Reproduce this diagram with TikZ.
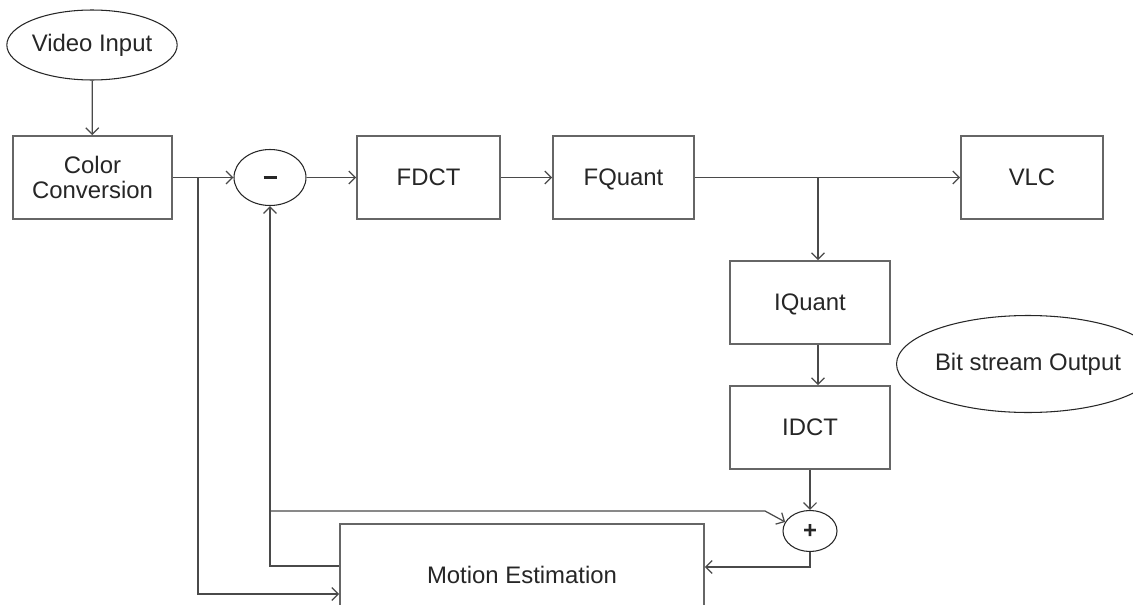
\documentclass[tikz,border=0pt]{standalone}
\usepackage{fontspec}
\setmainfont{Liberation Sans}
\usetikzlibrary{shapes.geometric,arrows.meta}
\definecolor{lijn}{HTML}{4A4A4A}
\definecolor{rand}{HTML}{666666}
\tikzset{
  blok/.style={draw=rand, line width=1pt, rectangle, inner sep=0pt, minimum height=1.66cm, align=center},
  ovaal/.style={draw=black!85, line width=0.6pt, ellipse, inner sep=0pt},
  pijl/.style={-{Straight Barb[length=1.3mm,width=2.6mm]}, draw=lijn, line width=0.7pt},
  lijnstuk/.style={draw=lijn, line width=0.7pt}
}
\begin{document}
\begin{tikzpicture}[x=0.02cm, y=-0.02cm, font=\fontsize{13.6}{14.4}\selectfont, text=black!85]
  \clip (0,0) rectangle (1133,605);
  \fill[white] (0,0) rectangle (1133,605);

  % ellipsen
  \node[ovaal, minimum width=2.84cm, minimum height=1.4cm] (vin) at (92,45) {Video Input};
  \node[ovaal, minimum width=4.1cm, minimum height=1.94cm] (bso) at (1028,364) {Bit stream Output};
  \node[ovaal, minimum width=1.44cm, minimum height=1.12cm] (min) at (270,177.5) {\rule{0.26cm}{0.07cm}};
  \node[ovaal, minimum width=1.08cm, minimum height=0.82cm] (plus) at (810,531) {\bfseries +};

  % blokken
  \node[blok, minimum width=3.18cm] (cc) at (92.5,177.5) {Color\\Conversion};
  \node[blok, minimum width=2.86cm] (fdct) at (428.5,177.5) {FDCT};
  \node[blok, minimum width=2.82cm, text depth=0pt] (fquant) at (623.5,177.5) {FQuant};
  \node[blok, minimum width=2.84cm] (vlc) at (1032,177.5) {VLC};
  \node[blok, minimum width=3.2cm, text depth=0pt] (iquant) at (810,302.5) {IQuant};
  \node[blok, minimum width=3.2cm] (idct) at (810,427.5) {IDCT};
  \node[blok, minimum width=7.28cm, minimum height=2.04cm] (me) at (522,575) {Motion Estimation};

  % hulppunten
  \coordinate (j1) at (198,177.5);
  \coordinate (j2) at (818,177.5);
  \coordinate (mein) at (me.west |- 0,594);
  \coordinate (meuit) at (me.west |- 0,566);
  \coordinate (j3) at (min.south |- 0,511);
  \coordinate (knik) at (765,511);
  \coordinate (terug) at (me.east |- 0,567);

  % verbindingen
  \draw[pijl] (vin) -- (cc);
  \draw[pijl] (cc) -- (min);
  \draw[pijl] (min) -- (fdct);
  \draw[pijl] (fdct) -- (fquant);
  \draw[pijl] (fquant) -- (vlc);
  \draw[pijl] (j1) |- (mein);
  \draw[pijl] (j2) -- (j2 |- iquant.north);
  \draw[pijl] (iquant.south -| j2) -- (idct.north -| j2);
  \draw[pijl] (idct) -- (plus);
  \draw[pijl] (meuit) -| (min.south);
  \draw[pijl] (j3) -- (knik) -- (plus.160);
  \draw[pijl] (plus.south) |- (terug);
\end{tikzpicture}
\end{document}
